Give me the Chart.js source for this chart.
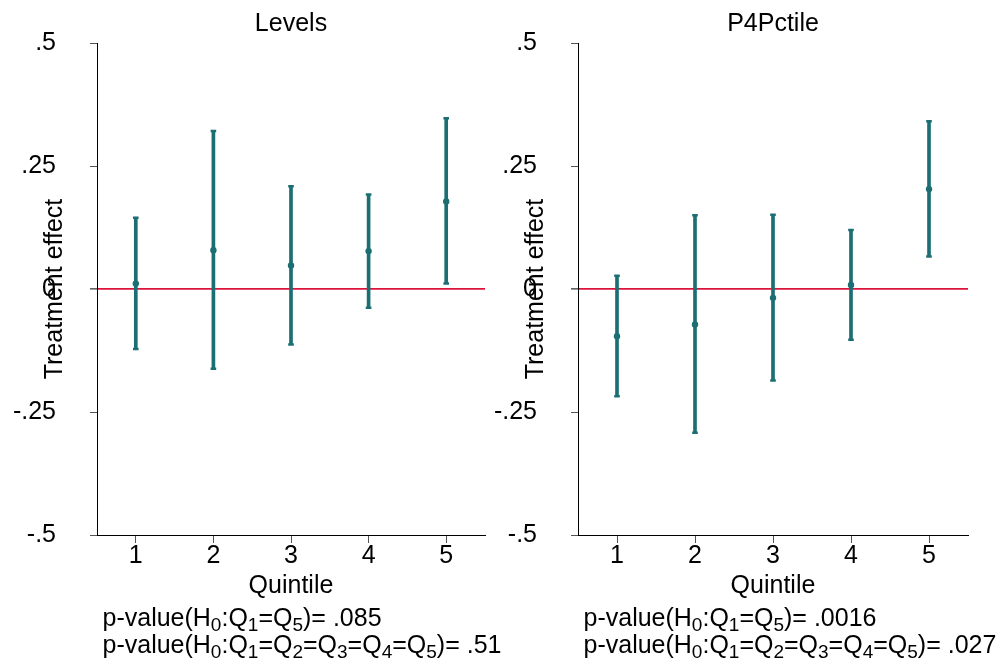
<!DOCTYPE html>
<html>
<head>
<meta charset="utf-8">
<script src="https://cdn.jsdelivr.net/npm/chart.js@4/dist/chart.umd.min.js"></script>
<style>
  html, body { margin: 0; padding: 0; background: #fff; }
  #wrap { position: relative; width: 1007px; height: 666px; overflow: hidden; }
  #wrap canvas { position: absolute; top: 0; }
</style>
</head>
<body>
<div id="wrap">
  <canvas id="levels" width="520" height="666" style="left:0"></canvas>
  <canvas id="pctile" width="517" height="666" style="left:490px"></canvas>
</div>
<script>
// Quintile categories and y-axis tick labels
const quintiles = ['1', '2', '3', '4', '5'];
const yTickValues = [-0.5, -0.25, 0, 0.25, 0.5];
const yTickLabels = ['-.5', '-.25', '0', '.25', '.5'];

// Levels: point estimates and confidence bounds
const levelsEst = [0.011, 0.079, 0.048, 0.077, 0.178];
const levelsLo  = [-0.122, -0.162, -0.113, -0.038, 0.011];
const levelsHi  = [0.145, 0.321, 0.209, 0.192, 0.347];

// P4Pctile: point estimates and confidence bounds
const pctEst = [-0.096, -0.072, -0.018, 0.008, 0.203];
const pctLo  = [-0.218, -0.292, -0.186, -0.103, 0.066];
const pctHi  = [0.027, 0.150, 0.151, 0.120, 0.341];

// Test statements and p-values printed under each panel
const hypotheses = ['H_0:Q_1=Q_5', 'H_0:Q_1=Q_2=Q_3=Q_4=Q_5'];
const levelsPvals = ['.085', '.51'];
const pctPvals = ['.0016', '.027'];

const FONT = "'Liberation Sans', Arial, Helvetica, sans-serif";
const FS = 25;
const TEAL = '#1b6f73';
const RED = '#dc143c';

// Draws text where "_x" renders x as a subscript
function drawSubText(ctx, text, x, y) {
  let cx = x;
  for (let i = 0; i < text.length; i++) {
    const ch = text[i];
    if (ch === '_' && i + 1 < text.length) {
      const sub = text[++i];
      ctx.font = Math.round(FS * 0.74) + 'px ' + FONT;
      ctx.fillText(sub, cx, y + 5);
      cx += ctx.measureText(sub).width;
    } else {
      ctx.font = FS + 'px ' + FONT;
      ctx.fillText(ch, cx, y);
      cx += ctx.measureText(ch).width;
    }
  }
}

const panelText = {
  id: 'panelText',
  afterDraw(chart, args, opts) {
    const ctx = chart.ctx;
    const a = chart.chartArea;
    ctx.save();
    ctx.fillStyle = '#000';
    ctx.textBaseline = 'alphabetic';
    ctx.font = FS + 'px ' + FONT;
    // panel title
    ctx.textAlign = 'center';
    ctx.fillText(opts.title, (a.left + a.right) / 2, a.top - 12);
    // x-axis title
    ctx.fillText('Quintile', (a.left + a.right) / 2, a.bottom + 58);
    // y-axis title
    ctx.save();
    ctx.translate(a.left - 35, (a.top + a.bottom) / 2);
    ctx.rotate(-Math.PI / 2);
    ctx.fillText('Treatment effect', 0, 0);
    ctx.restore();
    // p-value lines
    ctx.textAlign = 'left';
    opts.pvals.forEach((p, i) => {
      drawSubText(ctx, 'p-value(' + hypotheses[i] + ')= ' + p, a.left + 5.5, a.bottom + 91 + i * 27);
    });
    ctx.restore();
  }
};

function makePanel(id, title, est, lo, hi, axisWidth, padRight, pvals) {
  return new Chart(document.getElementById(id), {
    type: 'bar',
    data: {
      labels: quintiles,
      datasets: [
        {
          // confidence interval spans
          type: 'bar',
          data: lo.map((l, i) => [l, hi[i]]),
          backgroundColor: TEAL,
          borderWidth: 0,
          barThickness: 3,
          order: 3
        },
        {
          // upper caps
          type: 'line',
          data: hi,
          showLine: false,
          pointStyle: 'line',
          pointRadius: 2.8,
          pointBorderWidth: 2.5,
          pointBorderColor: TEAL,
          order: 2
        },
        {
          // lower caps
          type: 'line',
          data: lo,
          showLine: false,
          pointStyle: 'line',
          pointRadius: 2.8,
          pointBorderWidth: 2.5,
          pointBorderColor: TEAL,
          order: 2
        },
        {
          // point estimates
          type: 'line',
          data: est,
          showLine: false,
          pointStyle: 'circle',
          pointRadius: 3.2,
          pointBorderWidth: 0,
          pointBackgroundColor: TEAL,
          order: 1
        }
      ]
    },
    options: {
      responsive: false,
      animation: false,
      events: [],
      devicePixelRatio: 1,
      layout: { padding: { top: 43, right: padRight, left: 0, bottom: 0 } },
      plugins: {
        legend: { display: false },
        tooltip: { enabled: false },
        title: { display: false },
        panelText: { title: title, pvals: pvals }
      },
      scales: {
        x: {
          type: 'category',
          offset: true,
          grid: {
            offset: false,
            drawOnChartArea: false,
            drawTicks: true,
            tickLength: 8,
            tickColor: '#555',
            tickWidth: 1
          },
          border: { display: true, color: '#000', width: 1 },
          ticks: {
            color: '#000',
            font: { family: FONT, size: FS, lineHeight: 1 },
            padding: 1,
            maxRotation: 0
          },
          afterFit(scale) { scale.height = 131; }
        },
        y: {
          min: -0.5,
          max: 0.5,
          afterBuildTicks(scale) {
            scale.ticks = yTickValues.map(v => ({ value: v }));
          },
          grid: {
            drawOnChartArea: true,
            drawTicks: true,
            tickLength: 7,
            color: ctx => (ctx.tick && ctx.tick.value === 0 ? RED : 'rgba(0,0,0,0)'),
            lineWidth: ctx => (ctx.tick && ctx.tick.value === 0 ? 1.8 : 1),
            tickColor: ctx => (ctx.tick && ctx.tick.value === 0 ? '#000' : '#555'),
            tickWidth: 1
          },
          border: { display: true, color: '#000', width: 1 },
          ticks: {
            color: '#000',
            font: { family: FONT, size: FS },
            padding: 34,
            callback: v => yTickLabels[yTickValues.indexOf(v)]
          },
          afterFit(scale) {
            scale.width = axisWidth;
            scale.paddingTop = 0;
            scale.paddingBottom = 0;
          }
        }
      }
    },
    plugins: [panelText]
  });
}

makePanel('levels', 'Levels', levelsEst, levelsLo, levelsHi, 97, 35, levelsPvals);
makePanel('pctile', 'P4Pctile', pctEst, pctLo, pctHi, 88, 39, pctPvals);
</script>
</body>
</html>
